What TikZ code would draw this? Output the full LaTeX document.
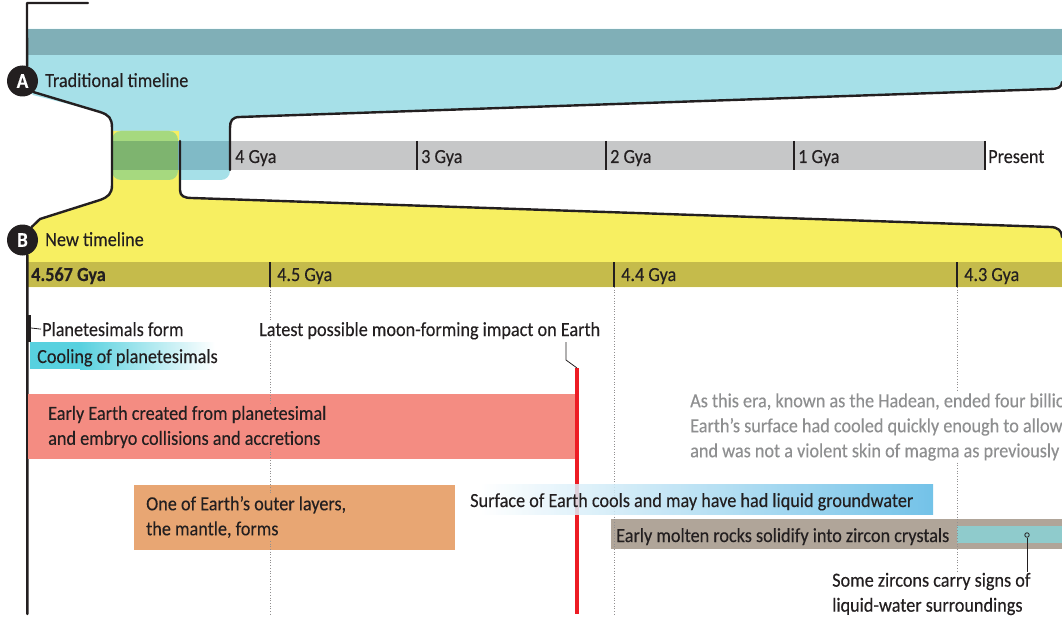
\documentclass[tikz,border=0pt]{standalone}
\usepackage{fontspec}
\setmainfont{Carlito}[FakeStretch=0.91,FakeBold=0.25]
\usetikzlibrary{positioning}

\definecolor{ink}{HTML}{231F20}
\definecolor{tradblue}{HTML}{A6E0E8}
\definecolor{tradteal}{HTML}{80AFB7}
\definecolor{bargray}{HTML}{C6C7C8}
\definecolor{barteal}{HTML}{80BAC6}
\definecolor{overgreen}{HTML}{A6D97F}
\definecolor{bargreen}{HTML}{7EB46F}
\definecolor{newyellow}{HTML}{F7EF61}
\definecolor{newolive}{HTML}{C5BB4B}
\definecolor{salmon}{HTML}{F48C82}
\definecolor{mantle}{HTML}{E8A673}
\definecolor{rock}{HTML}{B0A599}
\definecolor{zircwater}{HTML}{8FCBCC}
\definecolor{impact}{HTML}{ED1C24}
\definecolor{coolcyan}{HTML}{58D1DF}
\definecolor{groundblue}{HTML}{5BB8E4}
\definecolor{note}{HTML}{8E8F90}

\begin{document}
\begin{tikzpicture}[x=1pt,y=-1pt,
  every node/.style={inner sep=1pt,text=ink,font=\fontsize{20}{25}\selectfont},
  lbl/.style={anchor=base west},
  para/.style={anchor=west,align=left},
  badge/.style={circle,fill=ink,text=white,minimum size=31pt,inner sep=0pt,font=\fontsize{21}{21}\selectfont\bfseries},
  edge/.style={ink,line width=2.4pt,line join=round,line cap=round},
  tick/.style={ink,line width=1.3pt},
  grid/.style={ink!50,dotted,line width=0.7pt},
  leader/.style={ink,line width=0.8pt}]

\clip (0,0) rectangle (1062,631);

\fill[tradblue] (27,29) -- (1062,29) -- (1062,84) -- (1050,89) -- (240,117)
  .. controls (232,117) and (230,121) .. (230,128) -- (230,170)
  [rounded corners=9] -- (230,180) -- (112,180) [sharp corners] -- (112,128)
  .. controls (112,118) and (109,114) .. (100,112) -- (33,95) -- (27,88) -- cycle;
\fill[tradteal] (27,29) rectangle (1062,55);

\fill[newyellow] (112,131) -- (179,131) -- (179,190)
  .. controls (179,196) and (183,198) .. (190,198) -- (1050,227)
  .. controls (1058,227) and (1062,231) .. (1062,237) -- (1062,287) -- (27,287)
  -- (27,240) -- (31,228) -- (40,219) -- (100,200) .. controls (108,197) and (112,194) .. (112,185) -- cycle;

\fill[overgreen,rounded corners=9] (112,131) rectangle (178,180);
\fill[bargray] (230,141) rectangle (985,170);
\fill[barteal] (178,141) rectangle (230,170);
\fill[bargreen] (112,141) rectangle (178,170);
\fill[newolive] (27,262) rectangle (1062,287);

\node[badge] (tradA) at (22.5,81) {A};
\node[badge] (newB) at (22.5,240) {B};
\coordinate (topL) at (27,3);
\coordinate (topR) at (88,3);
\coordinate (axisEnd) at (27.3,614);

\draw[edge] (topR) -- (topL) -- (tradA.73);
\draw[edge] (tradA.-45) -- (100,112) .. controls (109,115) and (112,118) .. (112,128)
  -- (112,185) .. controls (112,194) and (108,197) .. (100,200) -- (40,219) -- (newB.55);
\draw[edge] (1062,82) .. controls (1062,87) and (1058,89) .. (1050,89) -- (240,117)
  .. controls (232,117) and (230,121) .. (230,128) -- (230,170);
\draw[edge] (180,141) -- (180,190) .. controls (180,196) and (184,198) .. (192,198)
  -- (1050,227) .. controls (1058,227) and (1062,231) .. (1062,237);
\draw[edge] (newB.-72) -- (axisEnd);

\node[lbl] (tradLbl) at (44,87) {Traditional timeline};
\node[lbl] (newLbl) at (44,246) {New timeline};

\node[lbl] (old4) at (234,163) {4 Gya};
\foreach \x/\t in {417/3, 606/2, 794/1} {
  \draw[tick] (\x,141) -- (\x,170);
  \node[lbl] (old\t) at (\x+3,163) {\t\ Gya};
}
\draw[tick] (985,141) -- (985,170);
\node[lbl] (present) at (987,163) {Present};

\fill[salmon] (28,394) rectangle (576,459);
\fill[mantle] (134,485) rectangle (455,550);
\fill[rock] (611,519) rectangle (1062,549);
\fill[zircwater] (957,526) rectangle (1062,543);

\node[lbl,font=\fontsize{20}{25}\selectfont\bfseries] (start) at (30,281) {4.567 Gya};
\foreach \x/\t in {270/4.5, 614/4.4, 957/4.3} {
  \draw[tick] (\x,262) -- (\x,287);
  \draw[grid] (\x,287) -- (\x,614);
  \node[lbl] (new\x) at (\x+6,281) {\t\ Gya};
}

\draw[line width=3.5pt,ink] (29,315) -- (29,342);
\node[lbl] (planet) at (41,336) {Planetesimals form};
\draw[leader] (31,328) -- (planet.west);
\fill[coolcyan] (30,342) rectangle (80,369);
\shade[left color=coolcyan,right color=white] (80,342) rectangle (215,369);
\node[lbl] (cooling) at (36,363) {Cooling of planetesimals};

\node[lbl,fill=white] (moon) at (258,336) {Latest possible moon-forming impact on Earth};
\coordinate (impTop) at (577,368);
\coordinate (impBot) at (577,614);
\draw[impact,line width=4pt] (impTop) -- (impBot);
\draw[leader] (566,342) -- (566,360) -- (impTop);

\node[para,fill=salmon] (accrete) at (47,427) {Early Earth created from planetesimal\\and embryo collisions and accretions};
\node[para,fill=mantle] (mantleLbl) at (145,517) {One of Earth’s outer layers,\\the mantle, forms};

\node[para,fill=white,text=note] (hadean) at (689,427) {As this era, known as the Hadean, ended four billio\\Earth’s surface had cooled quickly enough to allow\\and was not a violent skin of magma as previously};

\shade[left color=white,right color=groundblue,fill opacity=0.85] (480,484) rectangle (933,514);
\node[lbl] (ground) at (469,507) {Surface of Earth cools and may have had liquid groundwater};
\node[lbl] (zircon) at (615,542) {Early molten rocks solidify into zircon crystals};

\node[circle,draw=ink,fill=zircwater,line width=0.8pt,minimum size=4.5pt,inner sep=0pt] (zdot) at (1027,535) {};
\node[para,fill=white] (water) at (831,594) {Some zircons carry signs of\\liquid-water surroundings};
\draw[leader] (zdot) -- (zdot |- water.north);

\end{tikzpicture}
\end{document}
